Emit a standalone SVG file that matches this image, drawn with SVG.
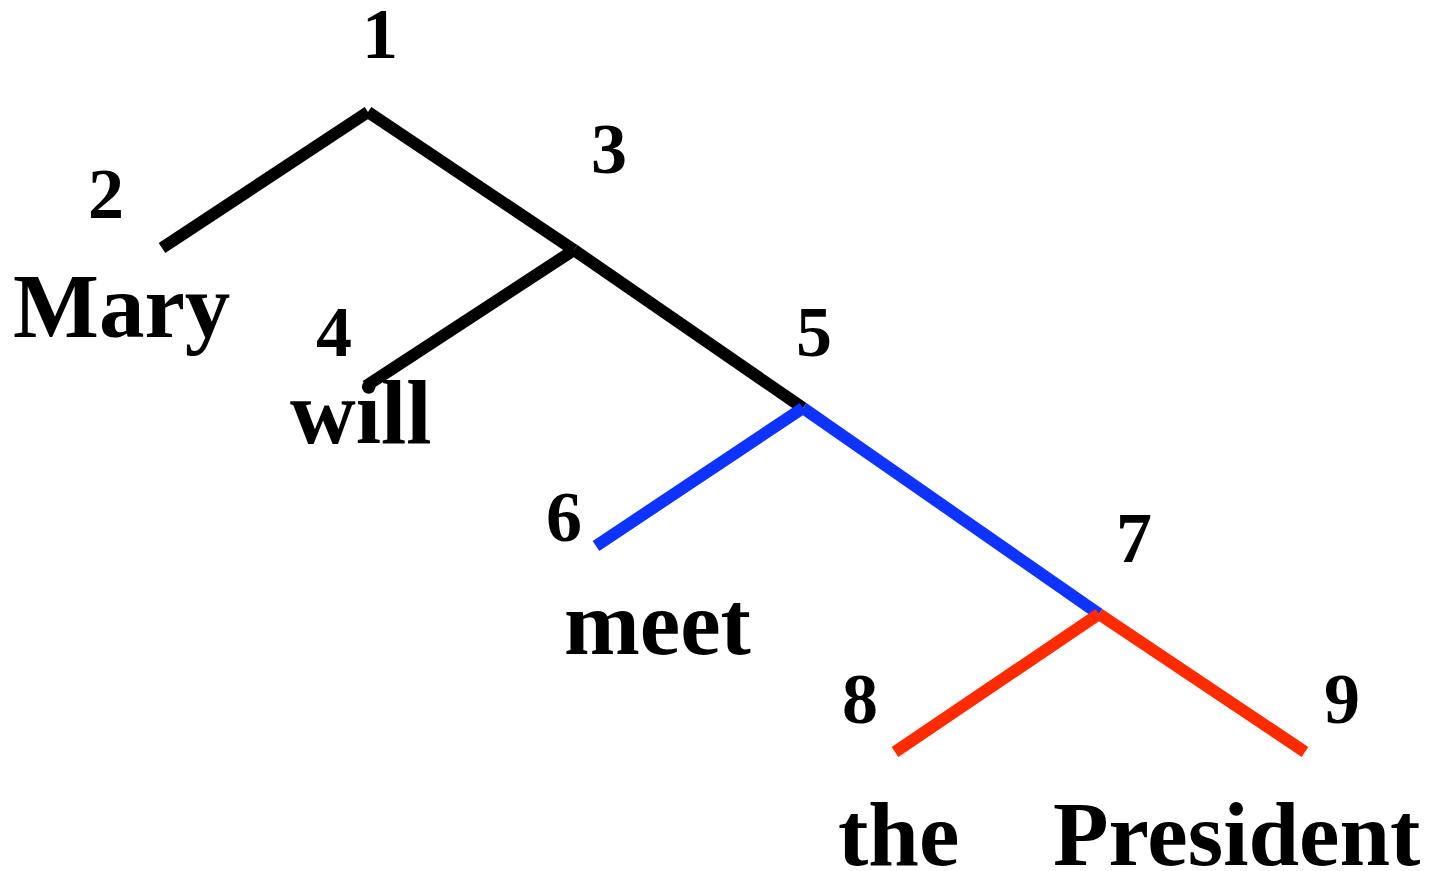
<svg xmlns="http://www.w3.org/2000/svg" width="1429" height="871" viewBox="0 0 1429 871">
<style>
.num{font-family:"Liberation Serif","Times New Roman",serif;font-weight:bold;font-size:72px;fill:#000;text-anchor:middle}
.word{font-family:"Liberation Serif","Times New Roman",serif;font-weight:bold;font-size:91px;fill:#000}
.e{stroke-width:12;fill:none;stroke-linecap:butt}
.k{stroke:#000}
.b{stroke:#0F33FF}
.r{stroke:#FF2B00}
</style>
<rect width="1429" height="871" fill="#fff"/>
<g id="connectors">
<line class="e k" x1="162" y1="248" x2="368" y2="112"/>
<line class="e k" x1="368" y1="112" x2="574" y2="250"/>
<line class="e k" x1="574" y1="250" x2="366" y2="386"/>
<line class="e k" x1="574" y1="250" x2="803" y2="408"/>
<line class="e b" x1="803" y1="408" x2="596" y2="546"/>
<line class="e b" x1="803" y1="408" x2="1099" y2="614"/>
<line class="e r" x1="1099" y1="614" x2="895" y2="752"/>
<line class="e r" x1="1099" y1="614" x2="1305" y2="752"/>
</g>
<g id="node1"><text class="num" x="380" y="58">1</text></g>
<g id="node2"><text class="num" x="106" y="218">2</text><text class="word" x="13" y="337">Mary</text></g>
<g id="node3"><text class="num" x="609" y="173">3</text></g>
<g id="node4"><text class="num" x="334" y="356">4</text><text class="word" x="290" y="443">will</text></g>
<g id="node5"><text class="num" x="814" y="356">5</text></g>
<g id="node6"><text class="num" x="564" y="541">6</text><text class="word" x="564" y="654">meet</text></g>
<g id="node7"><text class="num" x="1134" y="562">7</text></g>
<g id="node8"><text class="num" x="860" y="723">8</text><text class="word" x="838" y="865">the</text></g>
<g id="node9"><text class="num" x="1342" y="723">9</text><text class="word" x="1053" y="865">President</text></g>
</svg>
